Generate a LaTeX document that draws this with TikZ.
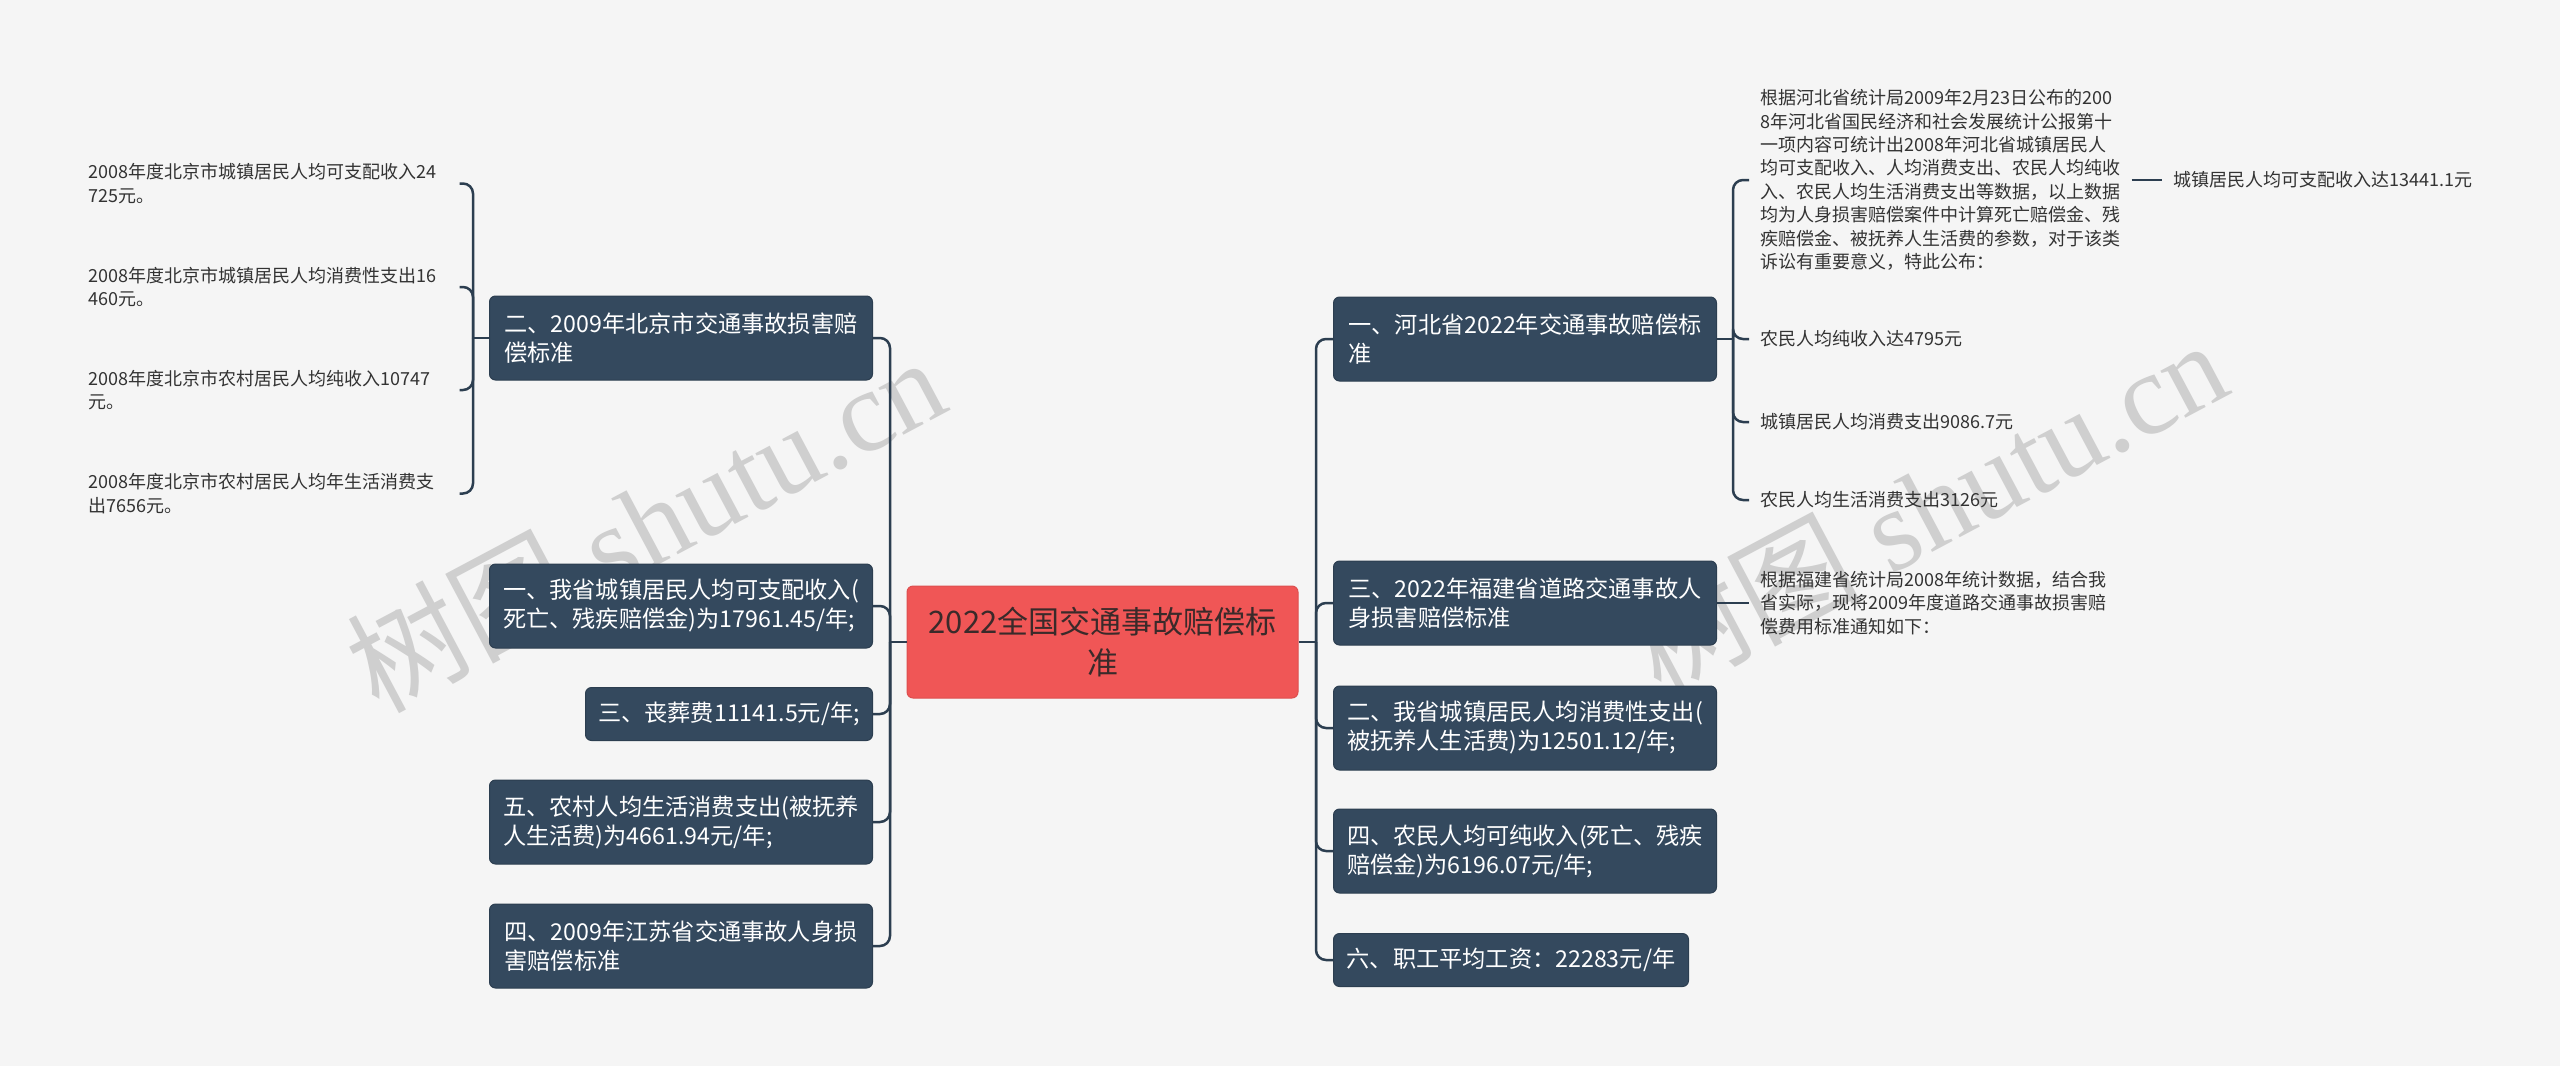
\documentclass[tikz,border=0pt]{standalone}
\usepackage{fontspec}
\setmainfont{Noto Sans CJK SC}
\newfontfamily\wmfont{Liberation Serif}
\usetikzlibrary{positioning}
\definecolor{bgpaper}{HTML}{F5F5F5}
\definecolor{rootred}{HTML}{F05656}
\definecolor{rootink}{HTML}{3A2A2A}
\definecolor{boxblue}{HTML}{34495E}
\definecolor{linkblue}{HTML}{2C3E50}
\definecolor{leafink}{HTML}{333333}
\definecolor{wmgray}{HTML}{CFCFCF}

\begin{document}
\begin{tikzpicture}[x=0.5pt,y=-0.5pt,line width=1.25pt,
  topic/.style={fill=rootred,draw=rootred!92!black,line width=.5pt,rounded corners=3pt,text=rootink,align=center,
    minimum width=195.5pt,minimum height=56pt,inner sep=0pt,font=\fontsize{15.5}{20.5}\selectfont},
  branch/.style={fill=boxblue,draw=boxblue!85!black,line width=.5pt,rounded corners=3pt,text=white,align=left,
    minimum width=191.5pt,minimum height=42pt,inner xsep=6pt,inner ysep=0pt,font=\fontsize{11.6}{14.5}\selectfont},
  oneline/.style={minimum height=26.5pt},
  leaf/.style={text=leafink,align=left,inner xsep=5pt,inner ysep=2pt,font=\fontsize{9}{11.7}\selectfont},
  leftleaf/.style={leaf,text width=180pt},
  link/.style={draw=linkblue,rounded corners=5pt},
  watermark/.style={text=wmgray,rotate=28,font=\fontsize{58}{60}\selectfont}]
\path[use as bounding box,fill=bgpaper] (0,0) rectangle (2560,1066);
% watermarks
\node[watermark] (wmleft) at (645,523) {树图\wmfont\ shutu.cn};
\node[watermark] (wmright) at (1927,506) {树图\wmfont\ shutu.cn};
% root
\node[topic] (root) at (1102.5,642) {2022全国交通事故赔偿标\\准};
\coordinate (lj) at (890,642);
\coordinate (rj) at (1316,642);
% left branches
\node[branch,anchor=east] (bj) at (873,338) {二、2009年北京市交通事故损害赔\\偿标准};
\node[branch,anchor=east] (szsr) at (873,606) {一、我省城镇居民人均可支配收入(\\死亡、残疾赔偿金)为17961.45/年;};
\node[branch,oneline,anchor=east,minimum width=143.5pt] (szf) at (873,714) {三、丧葬费11141.5元/年;};
\node[branch,anchor=east] (ncxf) at (873,822) {五、农村人均生活消费支出(被抚养\\人生活费)为4661.94元/年;};
\node[branch,anchor=east] (js) at (873,946) {四、2009年江苏省交通事故人身损\\害赔偿标准};
% right branches
\node[branch,anchor=west] (hb) at (1333,339) {一、河北省2022年交通事故赔偿标\\准};
\node[branch,anchor=west] (fj) at (1333,603) {三、2022年福建省道路交通事故人\\身损害赔偿标准};
\node[branch,anchor=west] (szxf) at (1333,728) {二、我省城镇居民人均消费性支出(\\被抚养人生活费)为12501.12/年;};
\node[branch,anchor=west] (nmsr) at (1333,851) {四、农民人均可纯收入(死亡、残疾\\赔偿金)为6196.07元/年;};
\node[branch,oneline,anchor=west,minimum width=177.5pt] (gz) at (1333,960) {六、职工平均工资：22283元/年};
% beijing leaves
\coordinate (bjj) at (473,338);
\node[leftleaf,anchor=west] (bj1) at (77,183.5) {2008年度北京市城镇居民人均可支配收入24\\725元。};
\node[leftleaf,anchor=west] (bj2) at (77,287) {2008年度北京市城镇居民人均消费性支出16\\460元。};
\node[leftleaf,anchor=west] (bj3) at (77,390) {2008年度北京市农村居民人均纯收入10747\\元。};
\node[leftleaf,anchor=west] (bj4) at (77,493.5) {2008年度北京市农村居民人均年生活消费支\\出7656元。};
% hebei leaves
\coordinate (hbj) at (1733,339);
\node[leaf,anchor=west] (hb1) at (1749,180) {根据河北省统计局2009年2月23日公布的200\\8年河北省国民经济和社会发展统计公报第十\\一项内容可统计出2008年河北省城镇居民人\\均可支配收入、人均消费支出、农民人均纯收\\入、农民人均生活消费支出等数据，以上数据\\均为人身损害赔偿案件中计算死亡赔偿金、残\\疾赔偿金、被抚养人生活费的参数，对于该类\\诉讼有重要意义，特此公布：};
\node[leaf,anchor=west] (hb1a) at (2162,180) {城镇居民人均可支配收入达13441.1元};
\node[leaf,anchor=west] (hb2) at (1749,339) {农民人均纯收入达4795元};
\node[leaf,anchor=west] (hb3) at (1749,422) {城镇居民人均消费支出9086.7元};
\node[leaf,anchor=west] (hb4) at (1749,500) {农民人均生活消费支出3126元};
% fujian leaf
\node[leaf,anchor=west] (fj1) at (1749,603) {根据福建省统计局2008年统计数据，结合我\\省实际，现将2009年度道路交通事故损害赔\\偿费用标准通知如下：};
% connectors
\draw[link] (root.west) -- (lj);
\draw[link] (root.east) -- (rj);
\foreach \n in {bj,szsr,szf,ncxf,js} \draw[link] (lj) |- (\n.east);
\foreach \n in {hb,fj,szxf,nmsr,gz} \draw[link] (rj) |- (\n.west);
\draw[link] (bj.west) -- (bjj);
\foreach \n in {bj1,bj2,bj3,bj4} \draw[link] (bjj) |- (\n.east);
\draw[link] (hb.east) -- (hbj);
\foreach \n in {hb1,hb2,hb3,hb4} \draw[link] (hbj) |- (\n.west);
\draw[link] (hb1.east) -- (hb1a.west);
\draw[link] (fj.east) -- (fj1.west);
\end{tikzpicture}
\end{document}
